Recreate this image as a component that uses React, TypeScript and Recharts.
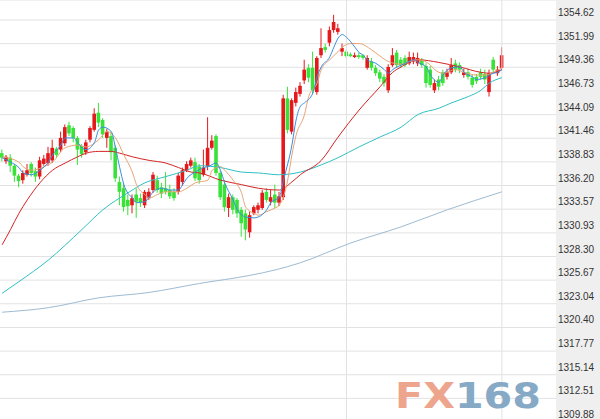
import React from "react";
import { ComposedChart, Bar, Line, XAxis, YAxis, CartesianGrid, ReferenceLine } from "recharts";

// candles, left to right
const opens = [
  1339.8, 1338.9, 1339.3, 1338.4, 1337.3, 1336.8, 1337.4, 1338.6, 1337.8, 1337.2,
  1338.6, 1338.7, 1339.0, 1340.3, 1340.2, 1340.9, 1342.9, 1342.6, 1341.5, 1340.6,
  1339.9, 1341.3, 1342.4, 1344.3, 1343.5, 1341.5, 1341.7, 1340.4, 1336.6, 1335.9,
  1334.6, 1334.0, 1335.2, 1334.8, 1334.0, 1334.8, 1335.7, 1336.8, 1336.0, 1335.9,
  1335.7, 1335.5, 1335.5, 1336.6, 1337.9, 1338.4, 1338.8, 1338.3, 1337.4, 1338.3,
  1340.4, 1341.7, 1337.6, 1336.3, 1333.7, 1334.9, 1334.6, 1333.5, 1333.1, 1331.0,
  1333.1, 1333.5, 1333.7, 1335.5, 1334.4, 1335.2, 1334.3, 1334.9, 1345.9, 1342.2,
  1345.4, 1346.4, 1347.9, 1349.3, 1349.3, 1346.6, 1350.7, 1351.6, 1352.1, 1353.5,
  1353.3, 1351.1, 1351.1, 1350.8, 1350.5, 1350.7, 1350.7, 1349.3, 1350.0, 1349.3,
  1348.8, 1348.3, 1346.8, 1349.6, 1351.0, 1350.2, 1350.4, 1349.8, 1350.0, 1349.8,
  1350.2, 1349.5, 1349.1, 1346.8, 1348.0, 1348.8, 1348.3, 1348.8, 1349.8, 1349.6,
  1348.5, 1348.8, 1348.2, 1348.3, 1348.8, 1348.6, 1346.6, 1350.2, 1348.7, 1349.3,
];
const highs = [
  1340.2, 1339.6, 1339.7, 1338.6, 1337.5, 1337.9, 1338.6, 1338.8, 1338.2, 1339.4,
  1339.6, 1340.5, 1341.3, 1340.5, 1342.2, 1343.0, 1343.3, 1342.8, 1341.7, 1340.8,
  1341.3, 1342.8, 1344.8, 1345.4, 1343.7, 1342.5, 1342.2, 1340.7, 1337.2, 1336.4,
  1335.2, 1335.2, 1335.9, 1335.3, 1335.7, 1335.9, 1337.7, 1337.3, 1336.5, 1337.7,
  1336.3, 1335.9, 1337.6, 1338.2, 1338.9, 1339.3, 1339.3, 1338.6, 1340.2, 1343.8,
  1341.8, 1341.9, 1337.9, 1336.8, 1335.3, 1335.2, 1334.8, 1333.8, 1333.5, 1333.3,
  1334.0, 1334.3, 1335.7, 1335.9, 1335.7, 1336.3, 1335.5, 1346.3, 1347.2, 1345.9,
  1347.1, 1347.7, 1350.2, 1349.7, 1351.1, 1350.6, 1353.7, 1352.0, 1353.9, 1355.2,
  1354.2, 1352.0, 1351.3, 1351.0, 1351.0, 1351.0, 1350.8, 1350.7, 1350.4, 1349.6,
  1349.1, 1348.6, 1349.7, 1351.5, 1351.3, 1350.5, 1350.7, 1351.1, 1351.0, 1351.0,
  1350.4, 1349.8, 1349.5, 1348.0, 1348.4, 1349.1, 1349.2, 1350.4, 1350.2, 1349.9,
  1349.2, 1349.2, 1348.5, 1348.6, 1349.2, 1349.1, 1349.1, 1350.5, 1349.5, 1351.6,
];
const lows = [
  1338.9, 1338.6, 1337.7, 1336.6, 1336.0, 1336.4, 1337.2, 1337.2, 1336.6, 1336.9,
  1338.4, 1338.4, 1338.7, 1339.3, 1339.9, 1340.6, 1341.7, 1341.0, 1338.5, 1339.3,
  1339.6, 1341.0, 1342.2, 1342.7, 1341.5, 1340.4, 1339.0, 1336.6, 1334.0, 1333.3,
  1332.9, 1333.1, 1332.6, 1333.8, 1333.7, 1334.6, 1335.4, 1335.4, 1334.8, 1335.2,
  1334.7, 1334.5, 1335.2, 1336.2, 1337.7, 1338.2, 1336.7, 1336.4, 1337.2, 1337.9,
  1340.2, 1337.3, 1334.6, 1333.3, 1332.7, 1333.0, 1332.6, 1330.5, 1330.1, 1330.4,
  1332.9, 1333.1, 1333.5, 1334.3, 1334.0, 1333.7, 1333.9, 1334.6, 1342.0, 1341.9,
  1345.0, 1346.1, 1347.5, 1347.7, 1346.4, 1346.3, 1350.4, 1351.0, 1351.7, 1353.2,
  1353.0, 1350.6, 1350.4, 1350.5, 1350.4, 1350.3, 1350.2, 1349.1, 1349.0, 1348.4,
  1347.7, 1347.2, 1346.5, 1349.4, 1349.3, 1349.3, 1349.4, 1349.6, 1349.7, 1349.5,
  1349.3, 1347.1, 1347.1, 1346.5, 1346.8, 1347.3, 1348.0, 1348.6, 1348.8, 1348.7,
  1348.2, 1348.0, 1347.1, 1347.5, 1348.0, 1347.5, 1346.1, 1348.7, 1348.4, 1349.1,
];
const closes = [
  1339.3, 1339.4, 1338.4, 1337.3, 1336.7, 1337.6, 1337.9, 1337.6, 1337.2, 1339.0,
  1339.2, 1339.8, 1340.4, 1339.6, 1341.5, 1342.7, 1342.0, 1341.5, 1340.2, 1339.7,
  1341.0, 1342.6, 1344.2, 1343.2, 1341.9, 1342.2, 1339.9, 1337.0, 1335.5, 1333.8,
  1333.9, 1334.8, 1334.4, 1334.3, 1335.5, 1335.5, 1337.4, 1335.7, 1335.3, 1335.5,
  1335.0, 1334.8, 1337.3, 1337.9, 1338.6, 1339.0, 1337.0, 1336.8, 1338.2, 1340.4,
  1341.2, 1337.6, 1334.9, 1333.8, 1334.9, 1333.5, 1333.1, 1332.0, 1331.3, 1332.9,
  1333.8, 1334.0, 1335.4, 1334.6, 1334.9, 1334.3, 1335.0, 1345.9, 1342.4, 1345.7,
  1346.6, 1347.3, 1349.1, 1348.2, 1346.8, 1350.4, 1351.5, 1351.3, 1353.5, 1354.4,
  1353.7, 1351.5, 1350.6, 1350.6, 1350.7, 1350.5, 1350.4, 1350.4, 1349.3, 1348.7,
  1348.1, 1347.6, 1349.4, 1350.7, 1349.6, 1349.6, 1349.6, 1350.5, 1350.5, 1350.4,
  1349.6, 1347.6, 1347.4, 1347.6, 1347.2, 1347.6, 1348.8, 1349.6, 1349.1, 1349.1,
  1348.8, 1348.3, 1347.4, 1347.8, 1348.3, 1348.0, 1348.7, 1349.1, 1349.1, 1350.7,
];

// moving averages, read as [candle index, price]
const ma5Pts = [
  [0, 1339.3], [2, 1338.8], [4, 1338.2], [5, 1337.6], [7, 1337.4], [9, 1337.9], [11, 1338.8],
  [12, 1339.6], [14, 1340.7], [15, 1341.5], [17, 1341.5], [18, 1341.0], [19, 1340.4], [20, 1340.2],
  [22, 1341.0], [23, 1342.4], [24, 1342.7], [26, 1342.2], [27, 1340.4], [28, 1338.2], [29, 1336.3],
  [31, 1334.8], [32, 1334.3], [34, 1334.4], [35, 1334.9], [36, 1335.5], [38, 1335.9], [40, 1335.7],
  [42, 1335.7], [43, 1336.3], [44, 1337.0], [46, 1337.7], [48, 1338.2], [49, 1338.3], [51, 1338.7],
  [52, 1337.9], [53, 1336.5], [55, 1334.6], [56, 1333.5], [58, 1332.7], [60, 1332.6], [61, 1332.7],
  [63, 1333.5], [64, 1334.3], [66, 1334.9], [67, 1336.8], [69, 1340.7], [70, 1343.5], [71, 1345.0],
  [72, 1345.4], [74, 1346.5], [75, 1348.3], [76, 1349.4], [78, 1350.5], [79, 1351.6], [80, 1352.6],
  [81, 1353.0], [82, 1352.7], [84, 1351.6], [85, 1351.0], [86, 1350.7], [87, 1350.2], [89, 1349.8],
  [91, 1349.1], [92, 1348.7], [93, 1349.1], [95, 1349.6], [96, 1349.8], [98, 1350.2], [99, 1349.9],
  [101, 1349.4], [102, 1348.5], [104, 1347.7], [105, 1348.5], [107, 1349.3], [109, 1349.4],
  [110, 1348.8], [112, 1348.3], [113, 1348.0], [115, 1348.2], [117, 1348.7], [118, 1348.8], [119, 1349.1],
];
const ma10Pts = [
  [0, 1339.4], [4, 1338.8], [5, 1338.3], [7, 1337.9], [10, 1338.3], [12, 1338.8], [15, 1340.4],
  [18, 1340.7], [20, 1340.5], [23, 1341.3], [25, 1342.2], [27, 1341.5], [29, 1339.6], [31, 1337.7],
  [32, 1336.3], [34, 1335.2], [35, 1334.8], [37, 1335.2], [39, 1335.5], [42, 1335.5], [44, 1335.9],
  [46, 1336.5], [49, 1336.8], [50, 1337.9], [52, 1338.3], [53, 1337.9], [55, 1336.8], [57, 1335.4],
  [58, 1333.8], [60, 1333.1], [61, 1332.9], [63, 1333.3], [65, 1333.7], [66, 1334.0], [68, 1336.8],
  [69, 1339.6], [70, 1341.8], [72, 1344.1], [73, 1346.1], [75, 1347.6], [76, 1349.1], [78, 1350.2],
  [80, 1351.1], [81, 1351.6], [83, 1352.0], [85, 1352.0], [88, 1351.3], [90, 1350.6], [92, 1350.0],
  [95, 1349.7], [97, 1350.0], [99, 1350.2], [102, 1349.6], [103, 1349.1], [105, 1348.7], [108, 1349.1],
  [110, 1348.8], [113, 1348.5], [115, 1348.5], [117, 1348.8], [119, 1349.3],
];
const ma20Pts = [
  [0, 1329.6], [2, 1331.3], [4, 1333.1], [6, 1334.6], [9, 1336.5], [12, 1337.9], [15, 1338.7],
  [18, 1339.4], [20, 1339.8], [23, 1340.0], [26, 1340.0], [28, 1339.8], [31, 1339.4], [35, 1339.0],
  [39, 1338.7], [42, 1338.2], [45, 1337.7], [47, 1337.6], [52, 1336.8], [57, 1336.3], [61, 1335.9],
  [66, 1335.7], [69, 1336.6], [71, 1337.4], [76, 1339.0], [80, 1341.6], [85, 1344.6], [90, 1347.2],
  [93, 1348.8], [95, 1349.4], [99, 1350.2], [104, 1349.9], [109, 1349.4], [114, 1348.8],
  [116, 1348.7], [119, 1349.1],
];
const ma60Pts = [
  [0, 1324.2], [4, 1325.5], [11, 1327.9], [19, 1331.3], [24, 1333.5], [30, 1335.4], [34, 1336.5],
  [39, 1337.2], [44, 1337.9], [47, 1338.4], [52, 1338.2], [57, 1337.7], [61, 1337.6], [66, 1337.4],
  [71, 1337.7], [76, 1338.5], [80, 1339.3], [85, 1340.5], [90, 1341.6], [95, 1342.7], [99, 1344.1],
  [104, 1344.8], [107, 1345.4], [111, 1346.1], [114, 1346.8], [116, 1347.6], [119, 1348.2],
];
const ma120Pts = [
  [0, 1322.1], [11, 1322.6], [23, 1323.7], [35, 1324.3], [47, 1325.3], [59, 1326.2], [65, 1326.8],
  [71, 1327.6], [83, 1329.8], [95, 1331.6], [106, 1333.5], [119, 1335.5],
];

const yTicks = [
  1354.62, 1351.99, 1349.36, 1346.73, 1344.09, 1341.46, 1338.83, 1336.2, 1333.57,
  1330.93, 1328.3, 1325.67, 1323.04, 1320.4, 1317.77, 1315.14, 1312.51, 1309.88,
];
const dayLines = [82, 119];

const data: any[] = opens.map((o, i) => ({
  i,
  open: o,
  high: highs[i],
  low: lows[i],
  close: closes[i],
  range: [lows[i], highs[i]],
}));
const addLine = (key: string, pts: number[][]) => pts.forEach(([i, v]) => { data[i][key] = v; });
addLine("ma5", ma5Pts);
addLine("ma10", ma10Pts);
addLine("ma20", ma20Pts);
addLine("ma60", ma60Pts);
addLine("ma120", ma120Pts);

const UP = "#e5191c";
const DOWN = "#38e238";

function Candle(props: any) {
  const { x, y, width, height, payload } = props;
  const { open, close, high, low } = payload;
  const color = close >= open ? UP : DOWN;
  const k = high > low ? height / (high - low) : 0;
  const cx = x + width / 2;
  const top = y + (high - Math.max(open, close)) * k;
  const bot = y + (high - Math.min(open, close)) * k;
  return (
    <g>
      <line x1={cx} x2={cx} y1={y} y2={y + height} stroke={color} strokeWidth={1} />
      <rect x={x} y={top} width={width} height={Math.max(1, bot - top)} fill={color} />
    </g>
  );
}

function PriceTick(props: any) {
  const { y, payload } = props;
  return (
    <text x={558} y={y - 4} fontSize={10} fontFamily="Liberation Sans, Arial, sans-serif" fill="#333">
      {Number(payload.value).toFixed(2)}
    </text>
  );
}

const noDot = () => <g />;

export default function App() {
  return (
    <div style={{ position: "absolute", left: 0, top: 0, width: 600, height: 419, overflow: "hidden", background: "#fff" }}>
      <div style={{ position: "absolute", left: 556, top: 0, width: 44, height: 419, background: "#efefef" }} />
      <div style={{ position: "absolute", left: 0, top: 0 }}>
        <ComposedChart width={600} height={422} data={data} margin={{ top: 0, right: 0, bottom: 0, left: 0 }}>
          <CartesianGrid vertical={false} stroke="#e2e2e2" />
          <XAxis dataKey="i" hide padding={{ left: 0, right: 52 }} />
          <YAxis
            orientation="right"
            domain={[1309.88, 1356.85]}
            ticks={yTicks}
            interval={0}
            allowDataOverflow
            axisLine={false}
            tickLine={false}
            width={44}
            tick={<PriceTick />}
          />
          {dayLines.map((d) => (
            <ReferenceLine key={d} x={d} stroke="#e2e2e2" />
          ))}
          <Bar dataKey="range" barSize={3.6} shape={<Candle />} isAnimationActive={false} />
          <Line dataKey="ma120" type="monotone" stroke="#9dbbd3" strokeWidth={1} dot={noDot} activeDot={false} connectNulls isAnimationActive={false} />
          <Line dataKey="ma60" type="monotone" stroke="#2fc0c4" strokeWidth={1} dot={noDot} activeDot={false} connectNulls isAnimationActive={false} />
          <Line dataKey="ma20" type="monotone" stroke="#d42424" strokeWidth={1} dot={noDot} activeDot={false} connectNulls isAnimationActive={false} />
          <Line dataKey="ma10" type="monotone" stroke="#e8a474" strokeWidth={1} dot={noDot} activeDot={false} connectNulls isAnimationActive={false} />
          <Line dataKey="ma5" type="monotone" stroke="#3a8ede" strokeWidth={1} dot={noDot} activeDot={false} connectNulls isAnimationActive={false} />
        </ComposedChart>
      </div>
      <svg width={600} height={419} style={{ position: "absolute", left: 0, top: 0, pointerEvents: "none" }}>
        <text x={395} y={408} fontSize={36} fontWeight="bold" fontFamily="DejaVu Sans, sans-serif" textLength={146} lengthAdjust="spacingAndGlyphs">
          <tspan fill="#eea58d">FX</tspan>
          <tspan fill="#86a9c6">168</tspan>
        </text>
      </svg>
    </div>
  );
}
